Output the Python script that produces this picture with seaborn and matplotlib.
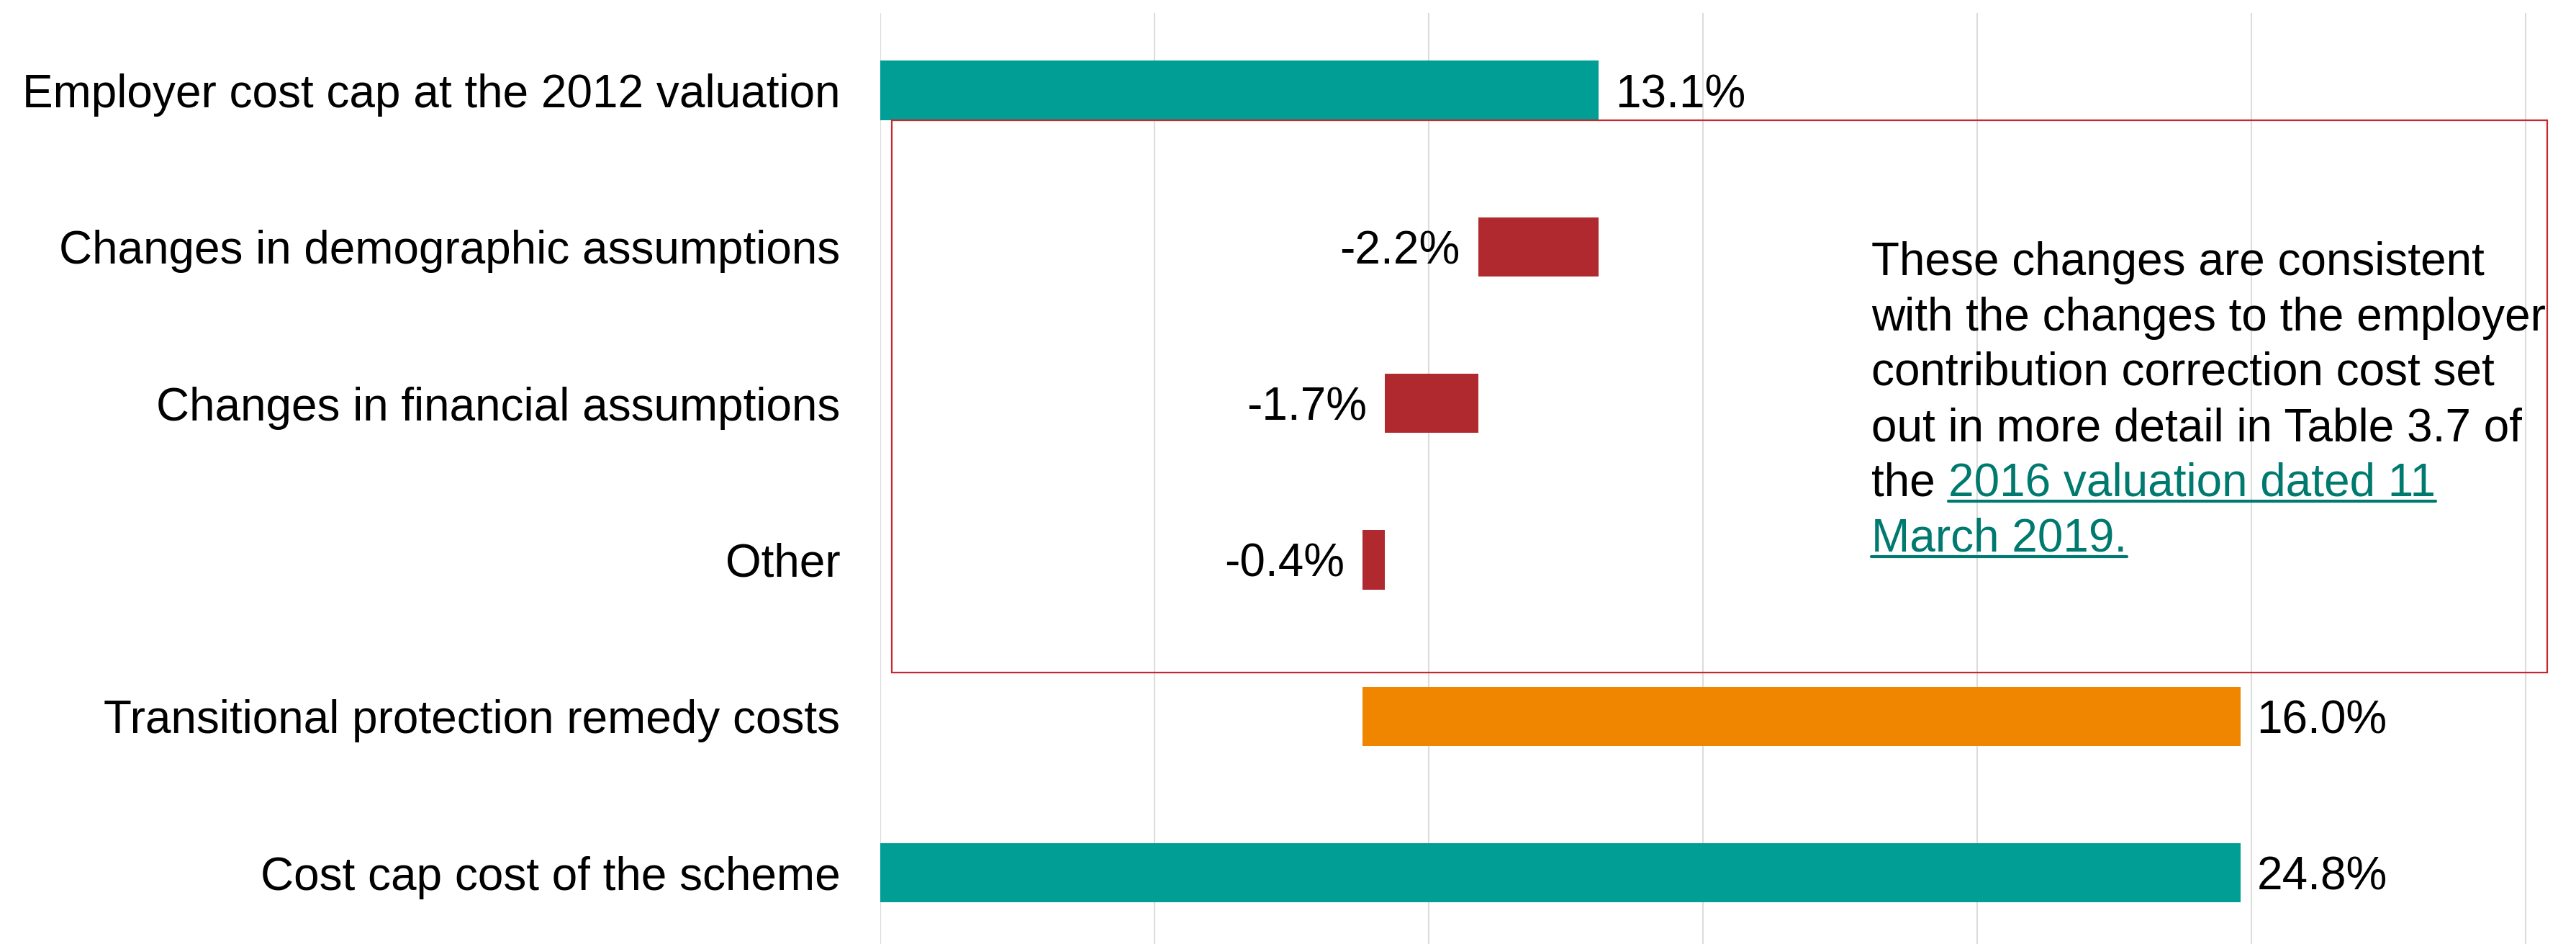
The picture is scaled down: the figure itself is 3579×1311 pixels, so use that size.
import numpy as np
import pandas as pd
import matplotlib
matplotlib.use("Agg")
import matplotlib.pyplot as plt
from matplotlib.patches import Rectangle
from matplotlib.lines import Line2D
import seaborn as sns

# data
categories = [
    "Employer cost cap at the 2012 valuation",
    "Changes in demographic assumptions",
    "Changes in financial assumptions",
    "Other",
    "Transitional protection remedy costs",
    "Cost cap cost of the scheme",
]
changes = [13.1, -2.2, -1.7, -0.4, 16.0, 24.8]
is_total = [True, False, False, False, False, True]
bar_colors = ["#009E94", "#B0292F", "#B0292F", "#B0292F", "#F08600", "#009E94"]

note_lines = [
    "These changes are consistent",
    "with the changes to the employer",
    "contribution correction cost set",
    "out in more detail in Table 3.7 of",
]
note_prefix = "the "
link_lines = ["2016 valuation dated 11", "March 2019."]

# waterfall starts: totals start at 0, steps start at the running total
starts = []
running = 0.0
for val, tot in zip(changes, is_total):
    if tot:
        starts.append(0.0)
        running = val
    else:
        starts.append(running)
        running += val

df = pd.DataFrame({"category": categories, "change": changes, "start": starts})

sns.set_style("white")
plt.rcParams["font.family"] = ["Liberation Sans", "DejaVu Sans"]
plt.rcParams["text.color"] = "black"
plt.rcParams["ytick.color"] = "black"

FS = 46

fig = plt.figure(figsize=(35.79, 13.11), dpi=100)
ax = fig.add_axes([0.3417, 0.0, 0.6583, 0.9863])

sns.barplot(data=df, x="change", y="category", left=df["start"].values,
            color=bar_colors[0], width=0.38, orient="h", ax=ax, zorder=2)
for p, c in zip(ax.patches, bar_colors):
    p.set_facecolor(c)
    p.set_edgecolor("none")

ax.set_xlim(0, 30.92)
ax.set_ylim(5.455, -0.495)
ax.set_xticks(np.arange(0, 31, 5))
ax.set_xticklabels([])
ax.grid(axis="x", color="#dcdcdc", linewidth=1.5, zorder=0)
ax.set_axisbelow(True)
for s in ax.spines.values():
    s.set_visible(False)
ax.set_xlabel("")
ax.set_ylabel("")
ax.tick_params(axis="y", length=0, pad=40, labelsize=FS, labelcolor="black")
ax.tick_params(axis="x", length=0)

# value labels
for i, (st, val) in enumerate(zip(starts, changes)):
    end = st + val
    if val >= 0:
        ax.text(end + 0.3, i, f"{val:.1f}%", ha="left", va="center_baseline", fontsize=FS)
    else:
        ax.text(end - 0.33, i, f"{val:.1f}%", ha="right", va="center_baseline", fontsize=FS)

# red outline box around the assumption changes
ax.add_patch(Rectangle((0.21, 0.19), 30.18, 3.53, fill=False,
                       edgecolor="#C8282D", linewidth=1.6, zorder=3))

# explanatory note with underlined link
note_x = 0.7265
line_y = [0.7265, 0.668, 0.610, 0.551, 0.493, 0.434]
for txt, y in zip(note_lines, line_y):
    fig.text(note_x, y, txt, fontsize=FS, va="center_baseline", ha="left")

fig.canvas.draw()
renderer = fig.canvas.get_renderer()
pre = fig.text(note_x, line_y[4], note_prefix, fontsize=FS, va="center_baseline", ha="left")
bb = pre.get_window_extent(renderer)
link_x = [bb.x1 / fig.bbox.width, note_x]
link_color = "#00796F"
for txt, x, y in zip(link_lines, link_x, line_y[4:]):
    t = fig.text(x, y, txt, fontsize=FS, va="center_baseline", ha="left", color=link_color)
    tb = t.get_window_extent(renderer).transformed(fig.transFigure.inverted())
    uy = tb.y0 + 0.004
    fig.add_artist(Line2D([tb.x0, tb.x1], [uy, uy], transform=fig.transFigure,
                          color=link_color, linewidth=3))

fig.savefig("out.png", dpi=100)
plt.close(fig)
